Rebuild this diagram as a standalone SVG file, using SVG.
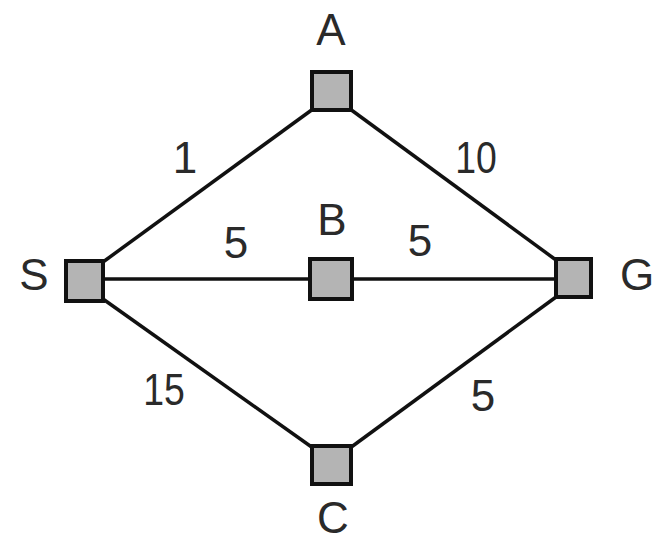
<svg xmlns="http://www.w3.org/2000/svg" width="658" height="541" viewBox="0 0 658 541">
<style>
.node rect{fill:#b4b4b4;stroke:#111;stroke-width:4}
.edge{stroke:#111;stroke-width:3.5;fill:none}
text{font-family:"Liberation Sans",Arial,sans-serif;fill:#2a2a2a;text-anchor:middle}
.nl{font-size:44px}
.el{font-size:44px}
</style>
<rect width="658" height="541" fill="#fff"/>
<g id="connectors">
<line class="edge" x1="103" y1="262" x2="313" y2="109"/>
<line class="edge" x1="350" y1="109" x2="556" y2="260"/>
<line class="edge" x1="103" y1="299" x2="313" y2="448"/>
<line class="edge" x1="350" y1="448" x2="556" y2="297"/>
<line class="edge" x1="104" y1="279" x2="310" y2="279"/>
<line class="edge" x1="352" y1="279" x2="555" y2="279"/>
<text class="el" x="185" y="173">1</text>
<text class="el" x="476" y="173" transform="translate(476 0) scale(0.85 1) translate(-476 0)">10</text>
<text class="el" x="236" y="258">5</text>
<text class="el" x="420" y="256">5</text>
<text class="el" x="164" y="405" transform="translate(164 0) scale(0.85 1) translate(-164 0)">15</text>
<text class="el" x="483" y="411">5</text>
</g>
<g id="A" class="node"><rect x="312" y="72" width="39" height="38"/><text class="nl" x="331" y="45">A</text></g>
<g id="S" class="node"><rect x="66" y="261" width="37" height="40"/><text class="nl" x="34" y="290">S</text></g>
<g id="B" class="node"><rect x="310" y="259" width="42" height="40"/><text class="nl" x="332" y="235">B</text></g>
<g id="G" class="node"><rect x="556" y="259" width="35" height="38"/><text class="nl" x="637" y="290">G</text></g>
<g id="C" class="node"><rect x="312" y="446" width="39" height="38"/><text class="nl" x="333" y="533">C</text></g>
</svg>
